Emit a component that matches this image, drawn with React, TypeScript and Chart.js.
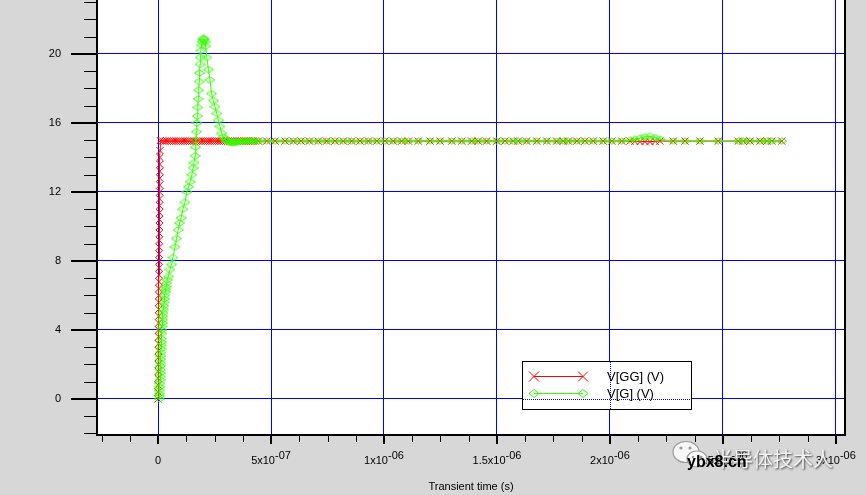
import React, { useEffect, useRef } from 'react';
import { Chart, registerables } from 'chart.js';

Chart.register(...registerables);

// time values below are in units of 1e-7 s
const T_UNIT = 1e-7;

// ---- V[GG] (V) ----
const ggRiseTime = [0.000, 0.002, 0.005, 0.007, 0.010, 0.012, 0.015, 0.017, 0.020, 0.022, 0.025, 0.027, 0.030, 0.032, 0.035, 0.037, 0.040, 0.042, 0.045, 0.047, 0.050, 0.052, 0.055, 0.057, 0.060, 0.062, 0.065, 0.067, 0.070, 0.072, 0.075, 0.077, 0.080, 0.082, 0.085, 0.087, 0.090];
const ggRiseVolt = [0.0, 0.4, 0.8, 1.2, 1.6, 2.0, 2.4, 2.8, 3.2, 3.6, 4.0, 4.4, 4.8, 5.2, 5.6, 6.0, 6.4, 6.8, 7.2, 7.6, 8.0, 8.4, 8.8, 9.2, 9.6, 10.0, 10.4, 10.8, 11.2, 11.6, 12.0, 12.4, 12.8, 13.2, 13.6, 14.0, 14.4];
const ggHoldTime = [0.1, 0.2, 0.3, 0.4, 0.5, 0.6, 0.7, 0.8, 0.9, 1.0, 1.1, 1.2, 1.3, 1.4, 1.5, 1.6, 1.7, 1.8, 1.9, 2.0, 2.1, 2.2, 2.3, 2.4, 2.5, 2.6, 2.7, 2.8, 2.9, 3.0, 3.1, 3.2, 3.3, 3.4, 3.5, 3.6, 3.7, 3.8, 3.9, 4.0, 4.1, 4.2, 4.3];
const ggHoldVolt = [14.98, 14.96, 14.95, 14.95, 14.95, 14.95, 14.95, 14.95, 14.95, 14.95, 14.95, 14.95, 14.95, 14.95, 14.95, 14.95, 14.95, 14.95, 14.95, 14.95, 14.95, 14.95, 14.95, 14.95, 14.95, 14.95, 14.95, 14.95, 14.95, 14.95, 14.95, 14.95, 14.95, 14.95, 14.95, 14.95, 14.95, 14.95, 14.95, 14.95, 14.95, 14.95, 14.95];

// ---- V[G] (V) ----
const gRiseTime = [0.06, 0.065, 0.07, 0.075, 0.08, 0.085, 0.09, 0.095, 0.10, 0.105, 0.11, 0.115, 0.12, 0.125, 0.13, 0.135, 0.14, 0.145, 0.15, 0.16, 0.17, 0.18, 0.19, 0.20, 0.21, 0.22, 0.235, 0.25, 0.265, 0.28, 0.30, 0.32, 0.34, 0.36, 0.38, 0.40];
const gRiseVolt = [0.0, 0.15, 0.3, 0.5, 0.7, 0.9, 1.1, 1.3, 1.5, 1.7, 1.9, 2.1, 2.3, 2.5, 2.7, 2.9, 3.1, 3.3, 3.5, 3.8, 4.0, 4.2, 4.4, 4.6, 4.8, 5.0, 5.2, 5.4, 5.6, 5.8, 6.0, 6.2, 6.35, 6.5, 6.7, 6.9];
const gRampTime = [0.46, 0.53, 0.60, 0.66, 0.75, 0.82, 0.89, 0.96, 1.02, 1.10, 1.19, 1.28, 1.35, 1.42, 1.50, 1.55, 1.59];
const gRampVolt = [7.1, 7.5, 7.8, 8.2, 8.8, 9.3, 9.8, 10.2, 10.5, 11.0, 11.4, 12.0, 12.3, 12.6, 13.0, 13.4, 13.7];
const gPeakTime = [1.64, 1.66, 1.68, 1.70, 1.72, 1.74, 1.76, 1.78, 1.80, 1.82, 1.84, 1.86, 1.88, 1.90, 1.93, 1.96, 1.99, 2.02, 2.05, 2.08, 2.11];
const gPeakVolt = [14.1, 14.6, 15.0, 15.5, 16.0, 16.4, 16.9, 17.4, 17.9, 18.4, 18.9, 19.4, 19.8, 20.2, 20.5, 20.7, 20.85, 20.9, 20.85, 20.7, 20.45];
const gFallTime = [2.16, 2.23, 2.30, 2.37, 2.45, 2.52, 2.60, 2.67, 2.74, 2.82, 2.89, 2.96, 3.04, 3.12, 3.19];
const gFallVolt = [19.8, 19.1, 18.5, 17.7, 17.3, 16.95, 16.55, 16.15, 15.8, 15.4, 15.2, 15.05, 14.95, 14.9, 14.88];
const gSettleTime = [3.25, 3.3, 3.35, 3.4, 3.45, 3.5, 3.6, 3.7, 3.8, 3.9, 4.0, 4.1, 4.2, 4.3];
const gSettleVolt = [14.87, 14.87, 14.88, 14.88, 14.9, 14.9, 14.92, 14.93, 14.94, 14.95, 14.95, 14.95, 14.95, 14.95];

// ---- shared output points on the flat part ----
const flatTime = [4.44, 4.81, 5.18, 5.62, 5.99, 6.33, 6.70, 7.09, 7.46, 7.83, 8.20, 8.57, 8.94, 9.31, 9.68, 10.04, 10.41, 10.78, 11.08, 11.52, 12.04, 12.48, 13.0, 13.44, 13.88, 14.17, 14.54, 14.99, 15.35, 15.72, 15.94, 16.31, 16.76, 17.20, 17.64, 17.93, 18.16, 18.53, 18.89, 19.26, 19.70, 20.08, 20.52, 20.89, 21.1, 21.33, 21.55, 21.77, 22.0, 22.21, 22.80, 23.32, 23.98, 24.79, 25.68, 25.90, 26.20, 26.64, 26.94, 27.16, 27.60];
const flatGVolt = [14.95, 14.95, 14.95, 14.95, 14.95, 14.95, 14.95, 14.95, 14.95, 14.95, 14.95, 14.95, 14.95, 14.95, 14.95, 14.95, 14.95, 14.95, 14.95, 14.95, 14.95, 14.95, 14.95, 14.95, 14.95, 14.95, 14.95, 14.95, 14.95, 14.95, 14.95, 14.95, 14.95, 14.95, 14.95, 14.95, 14.95, 14.95, 14.95, 14.95, 14.95, 14.95, 14.95, 15.0, 15.05, 15.12, 15.2, 15.22, 15.15, 15.05, 14.95, 14.95, 14.95, 14.95, 14.95, 14.95, 14.95, 14.95, 14.95, 14.95, 14.95];
const flatGGVolt = [14.95, 14.95, 14.95, 14.95, 14.95, 14.95, 14.95, 14.95, 14.95, 14.95, 14.95, 14.95, 14.95, 14.95, 14.95, 14.95, 14.95, 14.95, 14.95, 14.95, 14.95, 14.95, 14.95, 14.95, 14.95, 14.95, 14.95, 14.95, 14.95, 14.95, 14.95, 14.95, 14.95, 14.95, 14.95, 14.95, 14.95, 14.95, 14.95, 14.95, 14.95, 14.95, 14.95, 14.95, 14.93, 14.92, 14.92, 14.92, 14.93, 14.95, 14.95, 14.95, 14.95, 14.95, 14.95, 14.95, 14.95, 14.95, 14.95, 14.95, 14.95];

// ---- axes ----
const xMajorTicks = [0, 5e-7, 1e-6, 1.5e-6, 2e-6, 2.5e-6, 3e-6];
const xTickBase = ['0', '5x10', '1x10', '1.5x10', '2x10', '2.5x10', '3x10'];
const xTickExp = ['', '-07', '-06', '-06', '-06', '-06', '-06'];
const xMinorStep = 1.25e-7;
const yMajorTicks = [0, 4, 8, 12, 16, 20];
const yMinorStep = 1;
const X_MIN = -2.7e-7;
const X_MAX = 3.04e-6;
const Y_MIN = -2.09;
const Y_MAX = 23.13;

const seriesNames = ['V[G] (V)', 'V[GG] (V)'];
const RED = '#ff0000';
const GREEN = '#33ff00';
const FONT = '"Liberation Sans", Arial, sans-serif';

function toPoints(times: number[][], volts: number[][]) {
  const pts: { x: number; y: number }[] = [];
  times.forEach((arr, k) => {
    arr.forEach((t, i) => pts.push({ x: t * T_UNIT, y: volts[k][i] }));
  });
  return pts;
}

function makeDiamond(color: string) {
  const c = document.createElement('canvas');
  c.width = 11;
  c.height = 8;
  const g = c.getContext('2d')!;
  g.strokeStyle = color;
  g.lineWidth = 1;
  g.beginPath();
  g.moveTo(0.5, 4);
  g.lineTo(5.5, 0.8);
  g.lineTo(10.5, 4);
  g.lineTo(5.5, 7.2);
  g.closePath();
  g.stroke();
  return c;
}

function drawX(ctx: CanvasRenderingContext2D, x: number, y: number, r: number) {
  ctx.beginPath();
  ctx.moveTo(x - r, y - r);
  ctx.lineTo(x + r, y + r);
  ctx.moveTo(x + r, y - r);
  ctx.lineTo(x - r, y + r);
  ctx.stroke();
}

function drawDiamond(ctx: CanvasRenderingContext2D, x: number, y: number, w: number, h: number) {
  ctx.beginPath();
  ctx.moveTo(x - w, y);
  ctx.lineTo(x, y - h);
  ctx.lineTo(x + w, y);
  ctx.lineTo(x, y + h);
  ctx.closePath();
  ctx.stroke();
}

const decorPlugin = {
  id: 'decor',
  afterLayout(chart: any) {
    // plot area runs up to the very top edge of the picture
    const a = chart.chartArea;
    const ys = chart.scales.y;
    a.top = 0;
    a.height = a.bottom - a.top;
    ys.top = 0;
    ys.height = ys.bottom - ys.top;
    ys.configure();
  },
  beforeDraw(chart: any) {
    const { ctx, chartArea: a } = chart;
    ctx.save();
    ctx.fillStyle = '#d7d7d7';
    ctx.fillRect(0, 0, chart.width, chart.height);
    ctx.fillStyle = '#ffffff';
    ctx.fillRect(a.left, a.top, a.right - a.left, a.bottom - a.top);
    ctx.restore();
  },
  afterDraw(chart: any) {
    const { ctx, chartArea: a } = chart;
    const xs = chart.scales.x;
    const ys = chart.scales.y;
    ctx.save();
    // frame
    ctx.fillStyle = '#000';
    ctx.fillRect(a.left - 1, a.top, 2, a.bottom - a.top + 1);
    ctx.fillRect(a.left - 1, a.bottom - 1, a.right - a.left + 2, 2);
    ctx.fillRect(a.right - 1, a.top, 2, a.bottom - a.top + 1);

    // y ticks
    for (let v = Math.ceil(Y_MIN); v <= Y_MAX; v += yMinorStep) {
      const py = Math.round(ys.getPixelForValue(v));
      if (yMajorTicks.includes(v)) ctx.fillRect(a.left - 26, py - 1, 26, 2);
      else ctx.fillRect(a.left - 13, py, 13, 1);
    }
    // x ticks
    for (let k = Math.ceil(X_MIN / xMinorStep); k * xMinorStep <= X_MAX; k++) {
      const v = k * xMinorStep;
      const px = Math.round(xs.getPixelForValue(v));
      if (k % 4 === 0) ctx.fillRect(px - 1, a.bottom, 2, 9);
      else ctx.fillRect(px, a.bottom, 1, 7);
    }
    // x tick labels with exponent
    ctx.font = '11px ' + FONT;
    ctx.textBaseline = 'alphabetic';
    ctx.textAlign = 'left';
    xMajorTicks.forEach((v, i) => {
      const px = xs.getPixelForValue(v);
      const wb = ctx.measureText(xTickBase[i]).width;
      const we = xTickExp[i] ? ctx.measureText(xTickExp[i]).width : 0;
      const x0 = px - (wb + we) / 2;
      ctx.fillText(xTickBase[i], x0, 464);
      if (xTickExp[i]) ctx.fillText(xTickExp[i], x0 + wb, 459);
    });

    // legend
    const L = 522, Tp = 361, W = 170, H = 49;
    ctx.fillStyle = '#fff';
    ctx.fillRect(L, Tp, W, H);
    ctx.strokeStyle = '#0000ff';
    ctx.lineWidth = 1;
    ctx.setLineDash([1, 1]);
    xMajorTicks.forEach((v) => {
      const px = Math.round(xs.getPixelForValue(v)) + 0.5;
      if (px > L && px < L + W) {
        ctx.beginPath();
        ctx.moveTo(px, Tp + 1);
        ctx.lineTo(px, Tp + H);
        ctx.stroke();
      }
    });
    yMajorTicks.forEach((v) => {
      const py = Math.round(ys.getPixelForValue(v)) + 0.5;
      if (py > Tp && py < Tp + H) {
        ctx.beginPath();
        ctx.moveTo(L + 1, py);
        ctx.lineTo(L + W, py);
        ctx.stroke();
      }
    });
    ctx.setLineDash([]);
    ctx.strokeStyle = '#000';
    ctx.strokeRect(L + 0.5, Tp + 0.5, W - 1, H - 1);

    const ds = chart.data.datasets;
    ctx.strokeStyle = RED;
    ctx.beginPath();
    ctx.moveTo(534, 376.5);
    ctx.lineTo(583, 376.5);
    ctx.stroke();
    drawX(ctx, 534, 376.5, 5);
    drawX(ctx, 583, 376.5, 5);
    ctx.strokeStyle = GREEN;
    ctx.beginPath();
    ctx.moveTo(534, 393.5);
    ctx.lineTo(583, 393.5);
    ctx.stroke();
    drawDiamond(ctx, 534, 393.5, 5, 4);
    drawDiamond(ctx, 583, 393.5, 5, 4);
    ctx.fillStyle = '#000';
    ctx.font = '13px ' + FONT;
    ctx.textBaseline = 'middle';
    ctx.fillText(ds[1].label, 607, 377);
    ctx.fillText(ds[0].label, 607, 394);

    // watermark
    ctx.fillStyle = 'rgba(250,250,250,0.92)';
    ctx.strokeStyle = '#9a9a9a';
    ctx.lineWidth = 1.2;
    ctx.beginPath();
    ctx.ellipse(686, 452, 13, 10.5, 0, 0, Math.PI * 2);
    ctx.fill();
    ctx.stroke();
    ctx.beginPath();
    ctx.ellipse(697, 459, 10, 8, 0, 0, Math.PI * 2);
    ctx.fill();
    ctx.stroke();
    ctx.fillStyle = '#9a9a9a';
    [[681, 448, 1.6], [690, 448, 1.6], [693, 457, 1.3], [701, 457, 1.3]].forEach(([x, y, r]) => {
      ctx.beginPath();
      ctx.arc(x, y, r, 0, Math.PI * 2);
      ctx.fill();
    });
    ctx.font = '20px "Noto Sans CJK SC", sans-serif';
    ctx.textBaseline = 'alphabetic';
    ctx.shadowColor = 'rgba(40,40,40,0.85)';
    ctx.shadowBlur = 2;
    ctx.shadowOffsetX = 1;
    ctx.shadowOffsetY = 1;
    ctx.fillStyle = '#f2f2f2';
    ctx.fillText('半导体技术人', 713, 467);
    ctx.shadowColor = 'transparent';
    ctx.fillStyle = '#000';
    ctx.font = 'bold 16px ' + FONT;
    ctx.fillText('ybx8.cn', 687, 467);
    ctx.restore();
  },
};

export default function App() {
  const ref = useRef<HTMLCanvasElement>(null);
  useEffect(() => {
    const diamond = makeDiamond(GREEN);
    const gPoints = toPoints(
      [gRiseTime, gRampTime, gPeakTime, gFallTime, gSettleTime, flatTime],
      [gRiseVolt, gRampVolt, gPeakVolt, gFallVolt, gSettleVolt, flatGVolt]
    );
    const ggPoints = toPoints([ggRiseTime, ggHoldTime, flatTime], [ggRiseVolt, ggHoldVolt, flatGGVolt]);
    const chart = new Chart(ref.current!, {
      type: 'line',
      data: {
        datasets: [
          {
            label: seriesNames[0],
            data: gPoints,
            borderColor: GREEN,
            borderWidth: 1,
            pointStyle: diamond as any,
            pointRadius: 4,
            pointBorderColor: GREEN,
            pointBackgroundColor: 'rgba(0,0,0,0)',
            tension: 0,
            order: 0,
          },
          {
            label: seriesNames[1],
            data: ggPoints,
            borderColor: RED,
            borderWidth: 1,
            pointStyle: 'crossRot',
            pointRadius: 5,
            pointBorderWidth: 1,
            pointBorderColor: RED,
            tension: 0,
            order: 1,
          },
        ],
      },
      options: {
        responsive: false,
        animation: false,
        events: [],
        layout: { padding: { left: 0, right: 21, top: 0, bottom: 0 } },
        plugins: { legend: { display: false }, tooltip: { enabled: false } },
        scales: {
          x: {
            type: 'linear',
            min: X_MIN,
            max: X_MAX,
            afterBuildTicks: (s: any) => {
              s.ticks = xMajorTicks.map((v) => ({ value: v }));
            },
            afterFit: (s: any) => {
              s.height = 60;
              s.paddingLeft = 0;
              s.paddingRight = 0;
            },
            ticks: { display: false },
            grid: { color: '#0000ff', lineWidth: 1, drawTicks: false },
            border: { display: false },
            title: {
              display: true,
              text: 'Transient time (s)',
              color: '#000',
              font: { family: FONT, size: 11 },
              padding: { top: 0, bottom: 1 },
            },
          },
          y: {
            type: 'linear',
            min: Y_MIN,
            max: Y_MAX,
            afterBuildTicks: (s: any) => {
              s.ticks = yMajorTicks.map((v) => ({ value: v }));
            },
            afterFit: (s: any) => {
              s.width = 97;
              s.paddingTop = 0;
              s.paddingBottom = 0;
            },
            ticks: {
              color: '#000',
              font: { family: FONT, size: 11 },
              padding: 36,
              callback: (v: any) => String(v),
            },
            grid: { color: '#0000ff', lineWidth: 1, drawTicks: false },
            border: { display: false },
          },
        },
      },
      plugins: [decorPlugin],
    });
    return () => chart.destroy();
  }, []);
  return (
    <div style={{ position: 'absolute', left: 0, top: 0, width: 866, height: 495 }}>
      <canvas ref={ref} width={866} height={495} style={{ display: 'block' }} />
    </div>
  );
}
